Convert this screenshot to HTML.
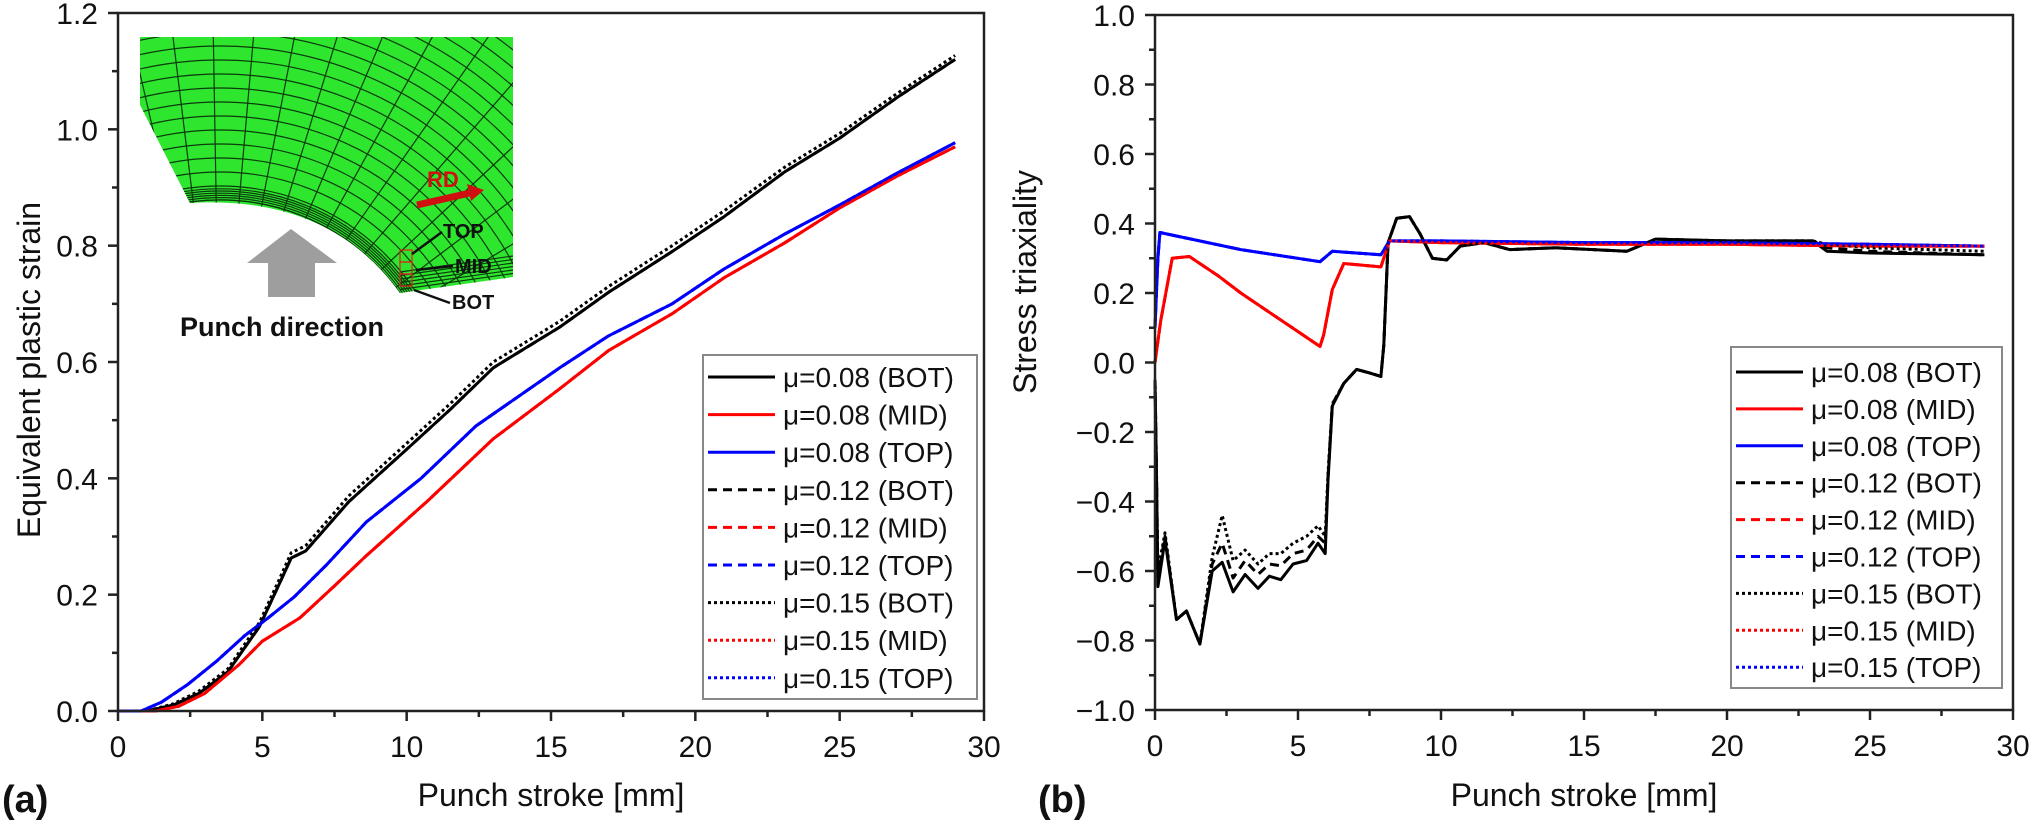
<!DOCTYPE html>
<html><head><meta charset="utf-8"><style>
html,body{margin:0;padding:0;background:#fff;width:2030px;height:829px;overflow:hidden;}
svg{display:block;font-family:"Liberation Sans",Arial,sans-serif;}
</style></head><body>
<svg id="fig" width="2030" height="829" viewBox="0 0 2030 829" xmlns="http://www.w3.org/2000/svg">
<defs><clipPath id="meshClip"><path d="M140,37 L513,37 L513,277 L400,293 Q330,195 190,203 L140,105 Z"/></clipPath></defs>
<g id="chartA"></g>
<g id="chartB"></g>
<g id="inset">
  <path d="M140,37 L513,37 L513,277 L400,293 Q330,195 190,203 L140,105 Z" fill="#2fe62f"/>
  <g id="meshGrid" clip-path="url(#meshClip)" stroke="#0b3a0b" stroke-width="1.2" fill="none"></g>
  <g stroke="#e02020" stroke-width="1.2" fill="none">
    <rect x="400" y="250" width="12" height="12"/><rect x="400" y="262" width="12" height="12"/><rect x="400" y="274" width="12" height="12"/>
  </g>
  <polygon points="291,229 337,263 315,263 315,297 268,297 268,263 247,263" fill="#9e9e9e"/>
  <text x="180" y="336" font-size="27" font-weight="bold" fill="#111">Punch direction</text>
  <text x="427" y="187" font-size="22" font-weight="bold" fill="#d01010">RD</text>
  <line x1="417" y1="205" x2="470" y2="193" stroke="#d01010" stroke-width="7"/>
  <polygon points="484,190 467,184 471,201" fill="#d01010"/>
  <text x="443" y="238" font-size="20" font-weight="bold" fill="#111">TOP</text>
  <text x="455" y="273" font-size="20" font-weight="bold" fill="#111">MID</text>
  <text x="452" y="309" font-size="20" font-weight="bold" fill="#111">BOT</text>
  <g stroke="#111" stroke-width="2.5">
    <line x1="442" y1="232" x2="412" y2="254"/><line x1="453" y1="266" x2="416" y2="270"/><line x1="450" y1="303" x2="414" y2="290"/>
  </g>
</g>
</svg>
<script>
// ---------- data: (a) equivalent plastic strain ----------
const botX = [0,1.0,1.9,2.8,3.8,4.9,5.6,6.0,6.5,8.0,10,11.5,13,15.3,17,19.2,21,23.1,25,27,29];
const botY = [0,0,0.01,0.03,0.067,0.145,0.22,0.263,0.275,0.36,0.45,0.518,0.59,0.66,0.72,0.79,0.85,0.927,0.985,1.055,1.12];
const bot15Y = [0,0,0.012,0.034,0.072,0.152,0.228,0.272,0.284,0.37,0.46,0.528,0.6,0.67,0.73,0.8,0.86,0.935,0.993,1.062,1.127];
const midX = [0,1.3,2.1,3,4.2,5,6.3,7.5,8.6,10.7,13,15.3,17,19.2,21,23.1,25,27,29];
const midY = [0,0,0.008,0.03,0.08,0.12,0.16,0.215,0.267,0.36,0.468,0.554,0.62,0.683,0.745,0.805,0.865,0.92,0.97];
const topX = [0,0.8,1.5,2.4,3.4,4.4,5.2,6.1,7.2,8.6,10.5,12.4,15.3,17,19.2,21,23.1,25,27,29];
const topY = [0,0,0.015,0.045,0.085,0.13,0.16,0.196,0.25,0.325,0.40,0.49,0.59,0.645,0.70,0.76,0.82,0.87,0.925,0.977];
const aYTicks = ["0.0","0.2","0.4","0.6","0.8","1.0","1.2"];
const xTicks = ["0","5","10","15","20","25","30"];
// ---------- data: (b) stress triaxiality ----------
const rBotX = [0,0.05,0.1,0.35,0.75,1.1,1.57,2.0,2.35,2.73,3.15,3.6,4.0,4.4,4.83,5.3,5.7,5.95,6.05,6.2,6.6,7.05,7.5,7.9,8.0,8.15,8.45,8.9,9.27,9.7,10.2,10.67,11.5,12.4,14,16.5,17.5,20,23,23.5,25,29];
const rBotY = [-0.05,-0.3,-0.645,-0.51,-0.74,-0.715,-0.81,-0.6,-0.575,-0.66,-0.61,-0.65,-0.615,-0.625,-0.58,-0.57,-0.52,-0.55,-0.34,-0.125,-0.06,-0.02,-0.03,-0.04,0.05,0.345,0.415,0.42,0.37,0.30,0.295,0.335,0.345,0.325,0.33,0.32,0.355,0.35,0.35,0.32,0.315,0.31];
const rBot12Y = [-0.05,-0.3,-0.62,-0.5,-0.74,-0.715,-0.81,-0.58,-0.52,-0.62,-0.57,-0.61,-0.58,-0.585,-0.55,-0.54,-0.5,-0.52,-0.33,-0.12,-0.06,-0.02,-0.03,-0.04,0.05,0.345,0.415,0.42,0.37,0.30,0.295,0.335,0.345,0.325,0.33,0.32,0.355,0.35,0.35,0.33,0.32,0.31];
const rBot15Y = [-0.05,-0.3,-0.6,-0.49,-0.74,-0.715,-0.81,-0.56,-0.44,-0.57,-0.54,-0.58,-0.55,-0.55,-0.52,-0.5,-0.47,-0.5,-0.32,-0.12,-0.06,-0.02,-0.03,-0.04,0.05,0.345,0.415,0.42,0.37,0.30,0.295,0.335,0.345,0.325,0.33,0.32,0.355,0.35,0.35,0.34,0.33,0.32];
const rMidX = [0,0.2,0.6,1.2,2.2,3.0,3.9,4.8,5.77,5.9,6.2,6.6,7.9,8.2,10,15,20,25,29];
const rMidY = [0,0.12,0.30,0.305,0.25,0.20,0.15,0.10,0.046,0.08,0.21,0.285,0.275,0.35,0.345,0.34,0.34,0.335,0.335];
const rTopX = [0,0.1,0.17,1.33,3,5.77,6.2,7.9,8.2,10,15,20,25,29];
const rTopY = [0.1,0.3,0.374,0.354,0.325,0.29,0.32,0.31,0.35,0.35,0.345,0.345,0.34,0.335];
const bYTicks = ["-1.0","-0.8","-0.6","-0.4","-0.2","0.0","0.2","0.4","0.6","0.8","1.0"];
const legendLabels = ["μ=0.08 (BOT)","μ=0.08 (MID)","μ=0.08 (TOP)","μ=0.12 (BOT)","μ=0.12 (MID)","μ=0.12 (TOP)","μ=0.15 (BOT)","μ=0.15 (MID)","μ=0.15 (TOP)"];

const NS = "http://www.w3.org/2000/svg";
function mk(tag, attrs, parent){ const e=document.createElementNS(NS,tag); for(const k in attrs) e.setAttribute(k,attrs[k]); parent.appendChild(e); return e; }
const colors=["#000","#f00","#00f"];
const dashes=["none","9,6","3,3"];

function drawChart(g, cfg){
  const sx = v => cfg.x0 + (v-cfg.xmin)/(cfg.xmax-cfg.xmin)*(cfg.x1-cfg.x0);
  const sy = v => cfg.y0 - (v-cfg.ymin)/(cfg.ymax-cfg.ymin)*(cfg.y0-cfg.y1);
  cfg.series.forEach((s,i)=>{
    const d = s.x.map((xv,j)=>(j?"L":"M")+sx(xv).toFixed(1)+","+sy(s.y[j]).toFixed(1)).join(" ");
    const p = mk("path",{d:d,fill:"none",stroke:colors[i%3],"stroke-width":3,"stroke-dasharray":dashes[Math.floor(i/3)],"stroke-linejoin":"round"},g);
    
    
  });
  const fr = mk("rect",{x:cfg.x0,y:cfg.y1,width:cfg.x1-cfg.x0,height:cfg.y0-cfg.y1,fill:"none",stroke:"#222","stroke-width":2.5},g);
  
  
  xTicks.forEach((t,i)=>{
    const v=+t, x=sx(v);
    mk("line",{x1:x,y1:cfg.y0,x2:x,y2:cfg.y0+10,stroke:"#222","stroke-width":2.5},g);
    if(i<xTicks.length-1){ const xm=sx(v+2.5); mk("line",{x1:xm,y1:cfg.y0,x2:xm,y2:cfg.y0+6,stroke:"#222","stroke-width":2.5},g); }
    const tx=mk("text",{x:x,y:cfg.y0+46,"font-size":30,"text-anchor":"middle",fill:"#111"},g); tx.textContent=t;
    
    
  });
  cfg.yTicks.forEach((t,i)=>{
    const v=+t, y=sy(v);
    mk("line",{x1:cfg.x0-10,y1:y,x2:cfg.x0,y2:y,stroke:"#222","stroke-width":2.5},g);
    if(i<cfg.yTicks.length-1){ const ym=sy(v+cfg.ystep/2); mk("line",{x1:cfg.x0-6,y1:ym,x2:cfg.x0,y2:ym,stroke:"#222","stroke-width":2.5},g); }
    const ty=mk("text",{x:cfg.x0-20,y:y+11,"font-size":30,"text-anchor":"end",fill:"#111"},g); ty.textContent=t.replace("-","−");
    
    
  });
  const xt=mk("text",{x:(cfg.x0+cfg.x1)/2,y:806,"font-size":32,"text-anchor":"middle",fill:"#111"},g); xt.textContent="Punch stroke [mm]";
  
  
  const yt=mk("text",{x:0,y:0,"font-size":32,"text-anchor":"middle",fill:"#111",transform:`translate(${cfg.ytx},${cfg.yty}) rotate(-90)`},g); yt.textContent=cfg.ytitle;
  
  
  const pl=mk("text",{x:cfg.px,y:812,"font-size":38,"font-weight":"bold",fill:"#111"},g); pl.textContent=cfg.panel;
  
  
  const L=cfg.leg;
  const lg=mk("g",{},g);
  
  
  mk("rect",{x:L.x,y:L.y,width:L.w,height:L.h,fill:"#fff",stroke:"#888","stroke-width":2},lg);
  legendLabels.forEach((lab,i)=>{
    const y=L.r0+i*L.dy;
    const e=mk("g",{},lg);
    
    
    mk("line",{x1:L.x+5,y1:y,x2:L.x+72,y2:y,stroke:colors[i%3],"stroke-width":3,"stroke-dasharray":dashes[Math.floor(i/3)]},e);
    const t=mk("text",{x:L.x+80,y:y+10,"font-size":28,fill:"#111"},e); t.textContent=lab;
  });
}

drawChart(document.getElementById("chartA"),{
  x0:118,x1:984,y0:711,y1:13,xmin:0,xmax:30,ymin:0,ymax:1.2,ystep:0.2,yTicks:aYTicks,
  ytitle:"Equivalent plastic strain",ytx:40,yty:370,panel:"(a)",px:2,
  leg:{x:703,y:355,w:274,h:344,r0:377,dy:37.6},
  series:[{x:botX,y:botY},{x:midX,y:midY},{x:topX,y:topY},
          {x:botX,y:botY},{x:midX,y:midY},{x:topX,y:topY},
          {x:botX,y:bot15Y},{x:midX,y:midY},{x:topX,y:topY}]
});
drawChart(document.getElementById("chartB"),{
  x0:1155,x1:2013,y0:710,y1:15,xmin:0,xmax:30,ymin:-1,ymax:1,ystep:0.2,yTicks:bYTicks,
  ytitle:"Stress triaxiality",ytx:1036,yty:282,panel:"(b)",px:1038,
  leg:{x:1731,y:347,w:271,h:341,r0:372,dy:36.9},
  series:[{x:rBotX,y:rBotY},{x:rMidX,y:rMidY},{x:rTopX,y:rTopY},
          {x:rBotX,y:rBot12Y},{x:rMidX,y:rMidY},{x:rTopX,y:rTopY},
          {x:rBotX,y:rBot15Y},{x:rMidX,y:rMidY},{x:rTopX,y:rTopY}]
});

// mesh grid (decorative)
const mg=document.getElementById("meshGrid");
const cx=220, cy=420;
for(let a=-175;a<=5;a+=6){
  const r=a*Math.PI/180;
  mk("line",{x1:cx,y1:cy,x2:cx+800*Math.cos(r),y2:cy+800*Math.sin(r)},mg);
}
for(let rr=220;rr<560;rr+=14){ mk("circle",{cx:cx,cy:cy,r:rr},mg); }
for(let k=1;k<7;k++){ mk("circle",{cx:cx,cy:cy,r:218+k*2.2},mg); mk("line",{x1:400,y1:293-k*3.5,x2:513,y2:277-k*3.5},mg); }
</script>
</body></html>
